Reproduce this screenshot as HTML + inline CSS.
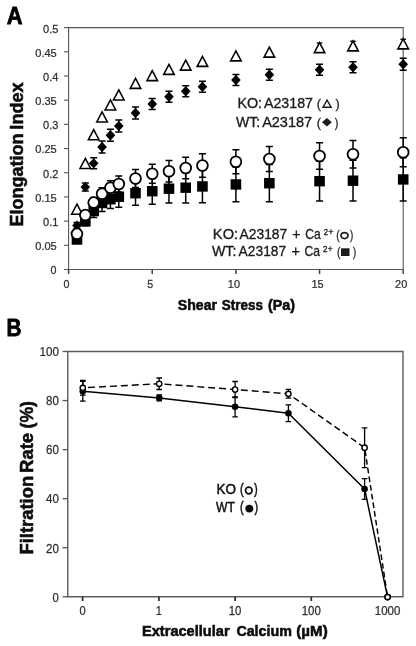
<!DOCTYPE html>
<html><head><meta charset="utf-8"><title>Figure</title>
<style>
html,body{margin:0;padding:0;background:#fff;}
body{width:416px;height:646px;position:relative;overflow:hidden;font-family:"Liberation Sans",sans-serif;}
</style></head><body>
<svg width="416" height="646" viewBox="0 0 416 646" style="position:absolute;left:0;top:0;will-change:transform;filter:grayscale(1)" font-family="Liberation Sans, sans-serif">
<rect width="416" height="646" fill="#fff"/>
<path d="M68.6 27.6H403.2V269.5H68.6Z" fill="none" stroke="#555555" stroke-width="1.1"/>
<path d="M63.99999999999999 269.50H68.6" stroke="#555555" stroke-width="1.1"/>
<text transform="translate(50.61 274.40) scale(0.9315 1.0)" font-size="11.5" fill="#2e2e2e" stroke="#2e2e2e" stroke-width="0.25">0</text>
<path d="M63.99999999999999 245.31H68.6" stroke="#555555" stroke-width="1.1"/>
<text transform="translate(35.23 250.21) scale(0.9627 1.0)" font-size="11.5" fill="#2e2e2e" stroke="#2e2e2e" stroke-width="0.25">0.05</text>
<path d="M63.99999999999999 221.12H68.6" stroke="#555555" stroke-width="1.1"/>
<text transform="translate(43.06 226.02) scale(0.9579 1.0)" font-size="11.5" fill="#2e2e2e" stroke="#2e2e2e" stroke-width="0.25">0.1</text>
<path d="M63.99999999999999 196.93H68.6" stroke="#555555" stroke-width="1.1"/>
<text transform="translate(35.23 201.83) scale(0.9627 1.0)" font-size="11.5" fill="#2e2e2e" stroke="#2e2e2e" stroke-width="0.25">0.15</text>
<path d="M63.99999999999999 172.74H68.6" stroke="#555555" stroke-width="1.1"/>
<text transform="translate(43.06 177.64) scale(0.9579 1.0)" font-size="11.5" fill="#2e2e2e" stroke="#2e2e2e" stroke-width="0.25">0.2</text>
<path d="M63.99999999999999 148.55H68.6" stroke="#555555" stroke-width="1.1"/>
<text transform="translate(35.23 153.45) scale(0.9627 1.0)" font-size="11.5" fill="#2e2e2e" stroke="#2e2e2e" stroke-width="0.25">0.25</text>
<path d="M63.99999999999999 124.36H68.6" stroke="#555555" stroke-width="1.1"/>
<text transform="translate(43.06 129.26) scale(0.9580 1.0)" font-size="11.5" fill="#2e2e2e" stroke="#2e2e2e" stroke-width="0.25">0.3</text>
<path d="M63.99999999999999 100.17H68.6" stroke="#555555" stroke-width="1.1"/>
<text transform="translate(35.23 105.07) scale(0.9627 1.0)" font-size="11.5" fill="#2e2e2e" stroke="#2e2e2e" stroke-width="0.25">0.35</text>
<path d="M63.99999999999999 75.98H68.6" stroke="#555555" stroke-width="1.1"/>
<text transform="translate(43.06 80.88) scale(0.9582 1.0)" font-size="11.5" fill="#2e2e2e" stroke="#2e2e2e" stroke-width="0.25">0.4</text>
<path d="M63.99999999999999 51.79H68.6" stroke="#555555" stroke-width="1.1"/>
<text transform="translate(35.23 56.69) scale(0.9627 1.0)" font-size="11.5" fill="#2e2e2e" stroke="#2e2e2e" stroke-width="0.25">0.45</text>
<path d="M63.99999999999999 27.60H68.6" stroke="#555555" stroke-width="1.1"/>
<text transform="translate(43.06 32.50) scale(0.9580 1.0)" font-size="11.5" fill="#2e2e2e" stroke="#2e2e2e" stroke-width="0.25">0.5</text>
<path d="M68.60 269.5V274.0" stroke="#444" stroke-width="1.5"/>
<text transform="translate(63.62 288.40) scale(0.9315 1.0)" font-size="11.5" fill="#2e2e2e" stroke="#2e2e2e" stroke-width="0.25">0</text>
<path d="M152.25 269.5V274.0" stroke="#444" stroke-width="1.5"/>
<text transform="translate(147.27 288.40) scale(0.9313 1.0)" font-size="11.5" fill="#2e2e2e" stroke="#2e2e2e" stroke-width="0.25">5</text>
<path d="M235.90 269.5V274.0" stroke="#444" stroke-width="1.5"/>
<text transform="translate(227.81 288.40) scale(0.9531 1.0)" font-size="11.5" fill="#2e2e2e" stroke="#2e2e2e" stroke-width="0.25">10</text>
<path d="M319.55 269.5V274.0" stroke="#444" stroke-width="1.5"/>
<text transform="translate(311.46 288.40) scale(0.9531 1.0)" font-size="11.5" fill="#2e2e2e" stroke="#2e2e2e" stroke-width="0.25">15</text>
<path d="M403.20 269.5V274.0" stroke="#444" stroke-width="1.5"/>
<text transform="translate(395.10 288.40) scale(0.9536 1.0)" font-size="11.5" fill="#2e2e2e" stroke="#2e2e2e" stroke-width="0.25">20</text>
<path d="M76.96 204.20L82.26 214.20H71.66Z" fill="#fff" stroke="#000" stroke-width="1.55" stroke-linejoin="miter"/>
<path d="M85.33 158.45L90.63 168.45H80.03Z" fill="#fff" stroke="#000" stroke-width="1.55" stroke-linejoin="miter"/>
<path d="M93.69 129.70L98.99 139.70H88.39Z" fill="#fff" stroke="#000" stroke-width="1.55" stroke-linejoin="miter"/>
<path d="M102.06 111.90L107.36 121.90H96.76Z" fill="#fff" stroke="#000" stroke-width="1.55" stroke-linejoin="miter"/>
<path d="M110.42 99.90L115.72 109.90H105.12Z" fill="#fff" stroke="#000" stroke-width="1.55" stroke-linejoin="miter"/>
<path d="M118.79 89.90L124.09 99.90H113.49Z" fill="#fff" stroke="#000" stroke-width="1.55" stroke-linejoin="miter"/>
<path d="M135.52 78.35L140.82 88.35H130.22Z" fill="#fff" stroke="#000" stroke-width="1.55" stroke-linejoin="miter"/>
<path d="M152.25 70.60L157.55 80.60H146.95Z" fill="#fff" stroke="#000" stroke-width="1.55" stroke-linejoin="miter"/>
<path d="M168.98 64.35L174.28 74.35H163.68Z" fill="#fff" stroke="#000" stroke-width="1.55" stroke-linejoin="miter"/>
<path d="M185.71 60.10L191.01 70.10H180.41Z" fill="#fff" stroke="#000" stroke-width="1.55" stroke-linejoin="miter"/>
<path d="M202.44 56.35L207.74 66.35H197.14Z" fill="#fff" stroke="#000" stroke-width="1.55" stroke-linejoin="miter"/>
<path d="M235.90 50.85L241.20 60.85H230.60Z" fill="#fff" stroke="#000" stroke-width="1.55" stroke-linejoin="miter"/>
<path d="M269.36 47.10L274.66 57.10H264.06Z" fill="#fff" stroke="#000" stroke-width="1.55" stroke-linejoin="miter"/>
<path d="M319.55 42.60L324.85 52.60H314.25Z" fill="#fff" stroke="#000" stroke-width="1.55" stroke-linejoin="miter"/>
<path d="M316.75 43.00H322.35" stroke="#000" stroke-width="1.4"/>
<path d="M353.01 40.85L358.31 50.85H347.71Z" fill="#fff" stroke="#000" stroke-width="1.55" stroke-linejoin="miter"/>
<path d="M350.21 41.25H355.81" stroke="#000" stroke-width="1.4"/>
<path d="M403.20 38.85L408.50 48.85H397.90Z" fill="#fff" stroke="#000" stroke-width="1.55" stroke-linejoin="miter"/>
<path d="M400.40 39.25H406.00" stroke="#000" stroke-width="1.4"/>
<path d="M76.96 222.60V228.60M73.46 222.60H80.46M73.46 228.60H80.46" stroke="#000" stroke-width="1.5" fill="none"/>
<path d="M76.96 220.40L81.76 225.60L76.96 230.80L72.16 225.60Z" fill="#000"/>
<path d="M85.33 183.10V191.10M81.83 183.10H88.83M81.83 191.10H88.83" stroke="#000" stroke-width="1.5" fill="none"/>
<path d="M85.33 181.90L90.13 187.10L85.33 192.30L80.53 187.10Z" fill="#000"/>
<path d="M93.69 157.85V168.85M90.19 157.85H97.19M90.19 168.85H97.19" stroke="#000" stroke-width="1.5" fill="none"/>
<path d="M93.69 158.15L98.49 163.35L93.69 168.55L88.89 163.35Z" fill="#000"/>
<path d="M102.06 141.05V153.05M98.56 141.05H105.56M98.56 153.05H105.56" stroke="#000" stroke-width="1.5" fill="none"/>
<path d="M102.06 141.85L106.86 147.05L102.06 152.25L97.26 147.05Z" fill="#000"/>
<path d="M110.42 129.30V141.30M106.92 129.30H113.92M106.92 141.30H113.92" stroke="#000" stroke-width="1.5" fill="none"/>
<path d="M110.42 130.10L115.22 135.30L110.42 140.50L105.62 135.30Z" fill="#000"/>
<path d="M118.79 120.05V132.05M115.29 120.05H122.29M115.29 132.05H122.29" stroke="#000" stroke-width="1.5" fill="none"/>
<path d="M118.79 120.85L123.59 126.05L118.79 131.25L113.99 126.05Z" fill="#000"/>
<path d="M135.52 107.00V119.00M132.02 107.00H139.02M132.02 119.00H139.02" stroke="#000" stroke-width="1.5" fill="none"/>
<path d="M135.52 107.80L140.32 113.00L135.52 118.20L130.72 113.00Z" fill="#000"/>
<path d="M152.25 98.50V109.50M148.75 98.50H155.75M148.75 109.50H155.75" stroke="#000" stroke-width="1.5" fill="none"/>
<path d="M152.25 98.80L157.05 104.00L152.25 109.20L147.45 104.00Z" fill="#000"/>
<path d="M168.98 91.25V102.25M165.48 91.25H172.48M165.48 102.25H172.48" stroke="#000" stroke-width="1.5" fill="none"/>
<path d="M168.98 91.55L173.78 96.75L168.98 101.95L164.18 96.75Z" fill="#000"/>
<path d="M185.71 85.75V96.75M182.21 85.75H189.21M182.21 96.75H189.21" stroke="#000" stroke-width="1.5" fill="none"/>
<path d="M185.71 86.05L190.51 91.25L185.71 96.45L180.91 91.25Z" fill="#000"/>
<path d="M202.44 81.25V92.25M198.94 81.25H205.94M198.94 92.25H205.94" stroke="#000" stroke-width="1.5" fill="none"/>
<path d="M202.44 81.55L207.24 86.75L202.44 91.95L197.64 86.75Z" fill="#000"/>
<path d="M235.90 74.50V85.50M232.40 74.50H239.40M232.40 85.50H239.40" stroke="#000" stroke-width="1.5" fill="none"/>
<path d="M235.90 74.80L240.70 80.00L235.90 85.20L231.10 80.00Z" fill="#000"/>
<path d="M269.36 69.25V80.25M265.86 69.25H272.86M265.86 80.25H272.86" stroke="#000" stroke-width="1.5" fill="none"/>
<path d="M269.36 69.55L274.16 74.75L269.36 79.95L264.56 74.75Z" fill="#000"/>
<path d="M319.55 64.25V75.25M316.05 64.25H323.05M316.05 75.25H323.05" stroke="#000" stroke-width="1.5" fill="none"/>
<path d="M319.55 64.55L324.35 69.75L319.55 74.95L314.75 69.75Z" fill="#000"/>
<path d="M353.01 61.75V72.75M349.51 61.75H356.51M349.51 72.75H356.51" stroke="#000" stroke-width="1.5" fill="none"/>
<path d="M353.01 62.05L357.81 67.25L353.01 72.45L348.21 67.25Z" fill="#000"/>
<path d="M403.20 58.25V70.25M399.70 58.25H406.70M399.70 70.25H406.70" stroke="#000" stroke-width="1.5" fill="none"/>
<path d="M403.20 59.05L408.00 64.25L403.20 69.45L398.40 64.25Z" fill="#000"/>
<path d="M76.96 236.15V242.95M73.46 236.15H80.46M73.46 242.95H80.46" stroke="#000" stroke-width="1.5" fill="none"/>
<rect x="71.66" y="234.35" width="10.6" height="10.4" fill="#000"/>
<path d="M85.33 216.90V225.70M81.83 216.90H88.83M81.83 225.70H88.83" stroke="#000" stroke-width="1.5" fill="none"/>
<rect x="80.03" y="216.10" width="10.6" height="10.4" fill="#000"/>
<path d="M93.69 204.65V217.45M90.19 204.65H97.19M90.19 217.45H97.19" stroke="#000" stroke-width="1.5" fill="none"/>
<rect x="88.39" y="205.85" width="10.6" height="10.4" fill="#000"/>
<path d="M102.06 194.60V211.40M98.56 194.60H105.56M98.56 211.40H105.56" stroke="#000" stroke-width="1.5" fill="none"/>
<rect x="96.76" y="197.80" width="10.6" height="10.4" fill="#000"/>
<path d="M110.42 190.10V208.40M106.92 190.10H113.92M106.92 208.40H113.92" stroke="#000" stroke-width="1.5" fill="none"/>
<rect x="105.12" y="194.05" width="10.6" height="10.4" fill="#000"/>
<path d="M118.79 186.35V207.15M115.29 186.35H122.29M115.29 207.15H122.29" stroke="#000" stroke-width="1.5" fill="none"/>
<rect x="113.49" y="191.55" width="10.6" height="10.4" fill="#000"/>
<path d="M135.52 181.05V205.35M132.02 181.05H139.02M132.02 205.35H139.02" stroke="#000" stroke-width="1.5" fill="none"/>
<rect x="130.22" y="188.00" width="10.6" height="10.4" fill="#000"/>
<path d="M152.25 178.05V204.35M148.75 178.05H155.75M148.75 204.35H155.75" stroke="#000" stroke-width="1.5" fill="none"/>
<rect x="146.95" y="186.00" width="10.6" height="10.4" fill="#000"/>
<path d="M168.98 174.30V203.10M165.48 174.30H172.48M165.48 203.10H172.48" stroke="#000" stroke-width="1.5" fill="none"/>
<rect x="163.68" y="183.50" width="10.6" height="10.4" fill="#000"/>
<path d="M185.71 172.30V203.10M182.21 172.30H189.21M182.21 203.10H189.21" stroke="#000" stroke-width="1.5" fill="none"/>
<rect x="180.41" y="182.50" width="10.6" height="10.4" fill="#000"/>
<path d="M202.44 170.05V202.85M198.94 170.05H205.94M198.94 202.85H205.94" stroke="#000" stroke-width="1.5" fill="none"/>
<rect x="197.14" y="181.25" width="10.6" height="10.4" fill="#000"/>
<path d="M235.90 167.05V201.85M232.40 167.05H239.40M232.40 201.85H239.40" stroke="#000" stroke-width="1.5" fill="none"/>
<rect x="230.60" y="179.25" width="10.6" height="10.4" fill="#000"/>
<path d="M269.36 164.55V201.85M265.86 164.55H272.86M265.86 201.85H272.86" stroke="#000" stroke-width="1.5" fill="none"/>
<rect x="264.06" y="178.00" width="10.6" height="10.4" fill="#000"/>
<path d="M319.55 161.30V201.10M316.05 161.30H323.05M316.05 201.10H323.05" stroke="#000" stroke-width="1.5" fill="none"/>
<rect x="314.25" y="176.00" width="10.6" height="10.4" fill="#000"/>
<path d="M353.01 160.30V201.10M349.51 160.30H356.51M349.51 201.10H356.51" stroke="#000" stroke-width="1.5" fill="none"/>
<rect x="347.71" y="175.50" width="10.6" height="10.4" fill="#000"/>
<path d="M403.20 157.80V201.10M399.70 157.80H406.70M399.70 201.10H406.70" stroke="#000" stroke-width="1.5" fill="none"/>
<rect x="397.90" y="174.25" width="10.6" height="10.4" fill="#000"/>
<path d="M76.96 230.85V236.85M73.46 230.85H80.46M73.46 236.85H80.46" stroke="#000" stroke-width="1.5" fill="none"/>
<circle cx="76.96" cy="233.85" r="5.4" fill="#fff" stroke="#000" stroke-width="1.8"/>
<path d="M85.33 211.10V219.10M81.83 211.10H88.83M81.83 219.10H88.83" stroke="#000" stroke-width="1.5" fill="none"/>
<circle cx="85.33" cy="215.10" r="5.4" fill="#fff" stroke="#000" stroke-width="1.8"/>
<path d="M93.69 197.60V207.60M90.19 197.60H97.19M90.19 207.60H97.19" stroke="#000" stroke-width="1.5" fill="none"/>
<circle cx="93.69" cy="202.60" r="5.4" fill="#fff" stroke="#000" stroke-width="1.8"/>
<path d="M102.06 187.80V199.80M98.56 187.80H105.56M98.56 199.80H105.56" stroke="#000" stroke-width="1.5" fill="none"/>
<circle cx="102.06" cy="193.80" r="5.4" fill="#fff" stroke="#000" stroke-width="1.8"/>
<path d="M110.42 180.80V194.80M106.92 180.80H113.92M106.92 194.80H113.92" stroke="#000" stroke-width="1.5" fill="none"/>
<circle cx="110.42" cy="187.80" r="5.4" fill="#fff" stroke="#000" stroke-width="1.8"/>
<path d="M118.79 176.05V192.05M115.29 176.05H122.29M115.29 192.05H122.29" stroke="#000" stroke-width="1.5" fill="none"/>
<circle cx="118.79" cy="184.05" r="5.4" fill="#fff" stroke="#000" stroke-width="1.8"/>
<path d="M135.52 169.50V187.50M132.02 169.50H139.02M132.02 187.50H139.02" stroke="#000" stroke-width="1.5" fill="none"/>
<circle cx="135.52" cy="178.50" r="5.4" fill="#fff" stroke="#000" stroke-width="1.8"/>
<path d="M152.25 164.25V183.25M148.75 164.25H155.75M148.75 183.25H155.75" stroke="#000" stroke-width="1.5" fill="none"/>
<circle cx="152.25" cy="173.75" r="5.4" fill="#fff" stroke="#000" stroke-width="1.8"/>
<path d="M168.98 160.50V182.00M165.48 160.50H172.48M165.48 182.00H172.48" stroke="#000" stroke-width="1.5" fill="none"/>
<circle cx="168.98" cy="171.25" r="5.4" fill="#fff" stroke="#000" stroke-width="1.8"/>
<path d="M185.71 157.25V178.75M182.21 157.25H189.21M182.21 178.75H189.21" stroke="#000" stroke-width="1.5" fill="none"/>
<circle cx="185.71" cy="168.00" r="5.4" fill="#fff" stroke="#000" stroke-width="1.8"/>
<path d="M202.44 153.75V177.25M198.94 153.75H205.94M198.94 177.25H205.94" stroke="#000" stroke-width="1.5" fill="none"/>
<circle cx="202.44" cy="165.50" r="5.4" fill="#fff" stroke="#000" stroke-width="1.8"/>
<path d="M235.90 149.75V173.75M232.40 149.75H239.40M232.40 173.75H239.40" stroke="#000" stroke-width="1.5" fill="none"/>
<circle cx="235.90" cy="161.75" r="5.4" fill="#fff" stroke="#000" stroke-width="1.8"/>
<path d="M269.36 146.50V171.50M265.86 146.50H272.86M265.86 171.50H272.86" stroke="#000" stroke-width="1.5" fill="none"/>
<circle cx="269.36" cy="159.00" r="5.4" fill="#fff" stroke="#000" stroke-width="1.8"/>
<path d="M319.55 142.75V169.25M316.05 142.75H323.05M316.05 169.25H323.05" stroke="#000" stroke-width="1.5" fill="none"/>
<circle cx="319.55" cy="156.00" r="5.4" fill="#fff" stroke="#000" stroke-width="1.8"/>
<path d="M353.01 140.50V168.00M349.51 140.50H356.51M349.51 168.00H356.51" stroke="#000" stroke-width="1.5" fill="none"/>
<circle cx="353.01" cy="154.25" r="5.4" fill="#fff" stroke="#000" stroke-width="1.8"/>
<path d="M403.20 137.75V166.75M399.70 137.75H406.70M399.70 166.75H406.70" stroke="#000" stroke-width="1.5" fill="none"/>
<circle cx="403.20" cy="152.25" r="5.4" fill="#fff" stroke="#000" stroke-width="1.8"/>
<text transform="translate(6.81 23.60) scale(0.8981 1.0)" font-size="24.4" font-weight="bold" fill="#000" stroke="#000" stroke-width="0.8">A</text>
<text transform="translate(6.54 336.40) scale(0.8480 1.0)" font-size="24.4" font-weight="bold" fill="#000" stroke="#000" stroke-width="0.8">B</text>
<text transform="translate(22.50 226.54) rotate(-90) scale(1.0245 1)" font-size="17.6" font-weight="bold" fill="#0c0c0c" stroke="#0c0c0c" stroke-width="0.55">Elongation</text>
<text transform="translate(22.50 129.64) rotate(-90) scale(1.0273 1)" font-size="17.6" font-weight="bold" fill="#0c0c0c" stroke="#0c0c0c" stroke-width="0.55">Index</text>
<text transform="translate(177.84 310.10) scale(0.9405 1.0)" font-size="15.0" font-weight="bold" fill="#0c0c0c" stroke="#0c0c0c" stroke-width="0.55">Shear</text>
<text transform="translate(221.84 310.10) scale(0.8972 1.0)" font-size="15.0" font-weight="bold" fill="#0c0c0c" stroke="#0c0c0c" stroke-width="0.55">Stress</text>
<text transform="translate(268.05 310.10) scale(0.9539 1.0)" font-size="15.0" font-weight="bold" fill="#0c0c0c" stroke="#0c0c0c" stroke-width="0.55">(Pa)</text>
<text transform="translate(237.38 107.50) scale(1.0121 1.0)" font-size="14.2" fill="#1c1c1c" stroke="#1c1c1c" stroke-width="0.32">KO:</text>
<text transform="translate(264.02 107.50) scale(0.9994 1.0)" font-size="14.2" fill="#1c1c1c" stroke="#1c1c1c" stroke-width="0.32">A23187</text>
<text transform="translate(316.75 107.50) scale(0.8894 0.9)" font-size="14.2" fill="#1c1c1c" stroke="#1c1c1c" stroke-width="0.32">(</text>
<path d="M327.05 100.2L331.1 107.2H323.0Z" fill="none" stroke="#1c1c1c" stroke-width="1.4"/>
<text transform="translate(335.45 107.50) scale(0.8894 0.9)" font-size="14.2" fill="#1c1c1c" stroke="#1c1c1c" stroke-width="0.32">)</text>
<text transform="translate(235.89 127.20) scale(0.9902 1.0)" font-size="14.2" fill="#1c1c1c" stroke="#1c1c1c" stroke-width="0.32">WT:</text>
<text transform="translate(262.13 127.20) scale(1.0221 1.0)" font-size="14.2" fill="#1c1c1c" stroke="#1c1c1c" stroke-width="0.32">A23187</text>
<text transform="translate(316.75 127.20) scale(0.8894 0.9)" font-size="14.2" fill="#1c1c1c" stroke="#1c1c1c" stroke-width="0.32">(</text>
<path d="M326.9 118.0L331.8 122.3L326.9 126.6L322.0 122.3Z" fill="#1c1c1c"/>
<text transform="translate(334.74 127.20) scale(0.7659 0.9)" font-size="14.2" fill="#1c1c1c" stroke="#1c1c1c" stroke-width="0.32">)</text>
<text transform="translate(212.85 239.30) scale(1.0345 1.0)" font-size="14.2" fill="#1c1c1c" stroke="#1c1c1c" stroke-width="0.32">KO:</text>
<text transform="translate(239.62 239.30) scale(0.9726 1.0)" font-size="14.2" fill="#1c1c1c" stroke="#1c1c1c" stroke-width="0.32">A23187</text>
<text transform="translate(292.25 239.30) scale(0.9990 1.0)" font-size="14.2" fill="#1c1c1c" stroke="#1c1c1c" stroke-width="0.32">+</text>
<text transform="translate(305.33 239.30) scale(0.8507 1.0)" font-size="14.2" fill="#1c1c1c" stroke="#1c1c1c" stroke-width="0.32">Ca</text>
<text transform="translate(323.86 235.40) scale(0.8882 1.0)" font-size="8.7" fill="#1c1c1c" stroke="#1c1c1c" stroke-width="0.32">2</text>
<text transform="translate(328.32 235.40) scale(1.0354 1.0)" font-size="8.7" fill="#1c1c1c" stroke="#1c1c1c" stroke-width="0.32">+</text>
<text transform="translate(336.28 239.30) scale(0.7165 0.9)" font-size="14.2" fill="#1c1c1c" stroke="#1c1c1c" stroke-width="0.32">(</text>
<ellipse cx="344.5" cy="235.55" rx="3.55" ry="3.0" fill="none" stroke="#1c1c1c" stroke-width="1.7"/>
<text transform="translate(350.04 239.30) scale(0.6918 0.9)" font-size="14.2" fill="#1c1c1c" stroke="#1c1c1c" stroke-width="0.32">)</text>
<text transform="translate(211.89 256.40) scale(1.0030 1.0)" font-size="14.2" fill="#1c1c1c" stroke="#1c1c1c" stroke-width="0.32">WT:</text>
<text transform="translate(238.62 256.40) scale(0.9706 1.0)" font-size="14.2" fill="#1c1c1c" stroke="#1c1c1c" stroke-width="0.32">A23187</text>
<text transform="translate(291.44 256.40) scale(1.0129 1.0)" font-size="14.2" fill="#1c1c1c" stroke="#1c1c1c" stroke-width="0.32">+</text>
<text transform="translate(304.53 256.40) scale(0.8563 1.0)" font-size="14.2" fill="#1c1c1c" stroke="#1c1c1c" stroke-width="0.32">Ca</text>
<text transform="translate(322.94 252.45) scale(0.9349 1.0)" font-size="8.7" fill="#1c1c1c" stroke="#1c1c1c" stroke-width="0.32">2</text>
<text transform="translate(327.64 252.45) scale(0.9472 1.0)" font-size="8.7" fill="#1c1c1c" stroke="#1c1c1c" stroke-width="0.32">+</text>
<text transform="translate(336.98 256.40) scale(0.7165 0.9)" font-size="14.2" fill="#1c1c1c" stroke="#1c1c1c" stroke-width="0.32">(</text>
<rect x="341.0" y="248.3" width="8.5" height="7.7" fill="#1c1c1c"/>
<text transform="translate(352.94 256.40) scale(0.6671 0.9)" font-size="14.2" fill="#1c1c1c" stroke="#1c1c1c" stroke-width="0.32">)</text>
<path d="M67.75 351.5H403.0V596.8H67.75Z" fill="none" stroke="#5c5c5c" stroke-width="1.4"/>
<path d="M62.55 596.80H67.75" stroke="#555555" stroke-width="1.3"/>
<text transform="translate(52.57 601.60) scale(0.9061 1.0)" font-size="12.5" fill="#2e2e2e" stroke="#2e2e2e" stroke-width="0.25">0</text>
<path d="M62.55 547.74H67.75" stroke="#555555" stroke-width="1.3"/>
<text transform="translate(46.00 552.54) scale(0.9259 1.0)" font-size="12.5" fill="#2e2e2e" stroke="#2e2e2e" stroke-width="0.25">20</text>
<path d="M62.55 498.68H67.75" stroke="#555555" stroke-width="1.3"/>
<text transform="translate(46.00 503.48) scale(0.9264 1.0)" font-size="12.5" fill="#2e2e2e" stroke="#2e2e2e" stroke-width="0.25">40</text>
<path d="M62.55 449.62H67.75" stroke="#555555" stroke-width="1.3"/>
<text transform="translate(46.00 454.42) scale(0.9259 1.0)" font-size="12.5" fill="#2e2e2e" stroke="#2e2e2e" stroke-width="0.25">60</text>
<path d="M62.55 400.56H67.75" stroke="#555555" stroke-width="1.3"/>
<text transform="translate(46.00 405.36) scale(0.9260 1.0)" font-size="12.5" fill="#2e2e2e" stroke="#2e2e2e" stroke-width="0.25">80</text>
<path d="M62.55 351.50H67.75" stroke="#555555" stroke-width="1.3"/>
<text transform="translate(39.44 356.30) scale(0.9320 1.0)" font-size="12.5" fill="#2e2e2e" stroke="#2e2e2e" stroke-width="0.25">100</text>
<path d="M82.60 596.8V601.0" stroke="#2a2a2a" stroke-width="1.7"/>
<text transform="translate(79.51 615.10) scale(0.9117 1.0)" font-size="12.2" fill="#2e2e2e" stroke="#2e2e2e" stroke-width="0.25">0</text>
<path d="M158.90 596.8V601.0" stroke="#2a2a2a" stroke-width="1.7"/>
<text transform="translate(155.83 615.10) scale(0.9078 1.0)" font-size="12.2" fill="#2e2e2e" stroke="#2e2e2e" stroke-width="0.25">1</text>
<path d="M235.10 596.8V601.0" stroke="#2a2a2a" stroke-width="1.7"/>
<text transform="translate(228.78 615.10) scale(0.9317 1.0)" font-size="12.2" fill="#2e2e2e" stroke="#2e2e2e" stroke-width="0.25">10</text>
<path d="M311.30 596.8V601.0" stroke="#2a2a2a" stroke-width="1.7"/>
<text transform="translate(301.75 615.10) scale(0.9385 1.0)" font-size="12.2" fill="#2e2e2e" stroke="#2e2e2e" stroke-width="0.25">100</text>
<text transform="translate(374.82 615.10) scale(0.9417 1.0)" font-size="12.2" fill="#2e2e2e" stroke="#2e2e2e" stroke-width="0.25">1000</text>
<polyline points="82.80,391.30 159.20,397.90 235.10,406.80 288.40,413.20 364.60,489.00 387.60,597.10" fill="none" stroke="#000" stroke-width="1.5" stroke-linejoin="round"/>
<path d="M82.80 387.80L84.13 387.73M88.06 387.52L95.05 387.15M98.99 386.94L105.98 386.57M109.91 386.36L116.91 385.99M120.84 385.78L127.83 385.41M131.76 385.20L138.76 384.83M142.69 384.63L149.68 384.25M153.62 384.05L159.20 383.75M159.20 383.75L160.60 383.86M164.53 384.15L171.51 384.68M175.43 384.98L182.41 385.51M186.33 385.81L193.31 386.33M197.23 386.63L204.21 387.16M208.13 387.46L215.11 387.99M219.03 388.28L226.01 388.81M229.93 389.11L235.10 389.50M235.10 389.50L236.91 389.65M240.83 389.96L247.80 390.52M251.72 390.84L258.69 391.40M262.62 391.72L269.59 392.28M273.51 392.60L280.48 393.16M284.40 393.48L288.40 393.80M288.40 393.80L290.64 395.38M293.58 397.47L298.82 401.17M301.77 403.26L307.01 406.96M309.96 409.05L315.20 412.75M318.14 414.84L323.38 418.55M326.33 420.63L331.57 424.34M334.52 426.42L339.76 430.13M342.70 432.21L347.94 435.92M350.89 438.00L356.13 441.71M359.08 443.79L364.32 447.50M365.03 450.52L365.89 456.06M366.37 459.17L367.22 464.71M367.70 467.83L368.55 473.37M369.03 476.48L369.88 482.02M370.36 485.14L371.22 490.68M371.70 493.79L372.55 499.33M373.03 502.45L373.88 507.99M374.36 511.10L375.21 516.64M375.69 519.76L376.55 525.30M377.03 528.41L377.88 533.95M378.36 537.07L379.21 542.61M379.69 545.72L380.54 551.26M381.02 554.38L381.88 559.92M382.36 563.03L383.21 568.57M383.69 571.69L384.54 577.23M385.02 580.34L385.87 585.88M386.35 589.00L387.21 594.54" fill="none" stroke="#000" stroke-width="1.45"/>
<path d="M82.80 381.40V401.20M80.00 381.40H85.60M80.00 401.20H85.60" stroke="#000" stroke-width="1.3" fill="none"/>
<circle cx="82.80" cy="391.30" r="3.3" fill="#000"/>
<path d="M159.20 394.90V400.90M156.40 394.90H162.00M156.40 400.90H162.00" stroke="#000" stroke-width="1.3" fill="none"/>
<circle cx="159.20" cy="397.90" r="3.3" fill="#000"/>
<path d="M235.10 396.80V416.80M232.30 396.80H237.90M232.30 416.80H237.90" stroke="#000" stroke-width="1.3" fill="none"/>
<circle cx="235.10" cy="406.80" r="3.3" fill="#000"/>
<path d="M288.40 404.80V421.60M285.60 404.80H291.20M285.60 421.60H291.20" stroke="#000" stroke-width="1.3" fill="none"/>
<circle cx="288.40" cy="413.20" r="3.3" fill="#000"/>
<path d="M364.60 478.60V499.40M361.80 478.60H367.40M361.80 499.40H367.40" stroke="#000" stroke-width="1.3" fill="none"/>
<circle cx="364.60" cy="489.00" r="3.3" fill="#000"/>

<circle cx="387.60" cy="597.10" r="3.3" fill="#000"/>
<path d="M82.80 380.40V395.20M80.00 380.40H85.60M80.00 395.20H85.60" stroke="#000" stroke-width="1.3" fill="none"/>
<circle cx="82.80" cy="387.80" r="2.65" fill="#fff" stroke="#000" stroke-width="1.45"/>
<path d="M159.20 378.00V389.50M156.40 378.00H162.00M156.40 389.50H162.00" stroke="#000" stroke-width="1.3" fill="none"/>
<circle cx="159.20" cy="383.75" r="2.65" fill="#fff" stroke="#000" stroke-width="1.45"/>
<path d="M235.10 381.50V397.50M232.30 381.50H237.90M232.30 397.50H237.90" stroke="#000" stroke-width="1.3" fill="none"/>
<circle cx="235.10" cy="389.50" r="2.65" fill="#fff" stroke="#000" stroke-width="1.45"/>
<path d="M288.40 389.40V398.20M285.60 389.40H291.20M285.60 398.20H291.20" stroke="#000" stroke-width="1.3" fill="none"/>
<circle cx="288.40" cy="393.80" r="2.65" fill="#fff" stroke="#000" stroke-width="1.45"/>
<path d="M364.60 427.80V467.60M361.80 427.80H367.40M361.80 467.60H367.40" stroke="#000" stroke-width="1.3" fill="none"/>
<circle cx="364.60" cy="447.70" r="2.65" fill="#fff" stroke="#000" stroke-width="1.45"/>

<circle cx="387.60" cy="597.10" r="2.65" fill="#fff" stroke="#000" stroke-width="1.45"/>
<text transform="translate(33.40 554.55) rotate(-90) scale(1.0450 1)" font-size="17.6" font-weight="bold" fill="#0c0c0c" stroke="#0c0c0c" stroke-width="0.55">Filtration</text>
<text transform="translate(33.40 472.96) rotate(-90) scale(1.0504 1)" font-size="17.6" font-weight="bold" fill="#0c0c0c" stroke="#0c0c0c" stroke-width="0.55">Rate</text>
<text transform="translate(33.40 428.51) rotate(-90) scale(1.0054 1)" font-size="17.6" font-weight="bold" fill="#0c0c0c" stroke="#0c0c0c" stroke-width="0.55">(%)</text>
<text transform="translate(141.98 636.30) scale(0.9738 1.0)" font-size="15.0" font-weight="bold" fill="#0c0c0c" stroke="#0c0c0c" stroke-width="0.55">Extracellular</text>
<text transform="translate(236.39 636.30) scale(0.9518 1.0)" font-size="15.0" font-weight="bold" fill="#0c0c0c" stroke="#0c0c0c" stroke-width="0.55">Calcium</text>
<text transform="translate(296.32 636.30) scale(1.0075 1.0)" font-size="15.0" font-weight="bold" fill="#0c0c0c" stroke="#0c0c0c" stroke-width="0.55">(µM)</text>
<text transform="translate(216.62 494.00) scale(0.9428 1.0)" font-size="14.3" fill="#111" stroke="#111" stroke-width="0.5">KO</text>
<text transform="translate(240.10 494.00) scale(0.7758 1.001)" font-size="14.3" fill="#111" stroke="#111" stroke-width="0.5">(</text>
<circle cx="248.8" cy="490.5" r="3.3" fill="none" stroke="#111" stroke-width="1.7"/>
<text transform="translate(254.11 494.00) scale(0.7758 1.001)" font-size="14.3" fill="#111" stroke="#111" stroke-width="0.5">)</text>
<text transform="translate(215.95 512.40) scale(0.8504 1.0)" font-size="14.3" fill="#111" stroke="#111" stroke-width="0.5">WT</text>
<text transform="translate(240.10 512.40) scale(0.7758 1.001)" font-size="14.3" fill="#111" stroke="#111" stroke-width="0.5">(</text>
<circle cx="249.3" cy="508.6" r="3.95" fill="#0a0a0a"/>
<text transform="translate(254.51 512.40) scale(0.7523 1.001)" font-size="14.3" fill="#111" stroke="#111" stroke-width="0.5">)</text>
</svg>
</body></html>
